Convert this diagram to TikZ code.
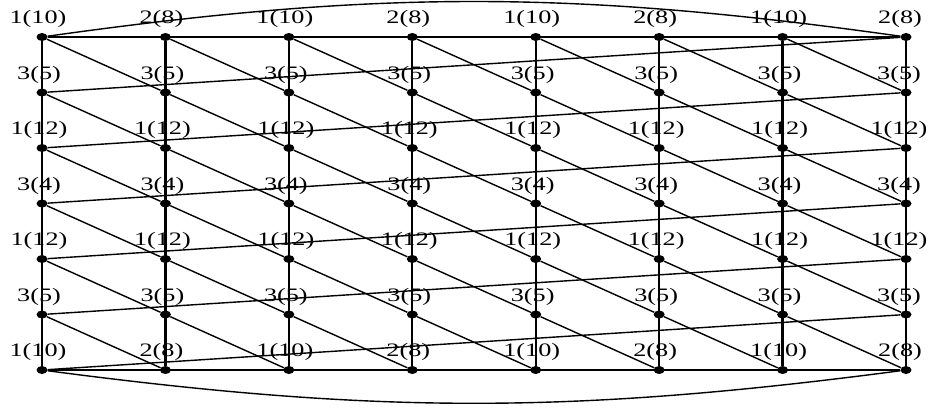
\documentclass[tikz,border=0pt]{standalone}
\usepackage{fontspec}
\setmainfont{Liberation Serif}
\usetikzlibrary{shapes.geometric,calc}
\tikzset{vert/.style={ellipse,fill=black,inner sep=0pt,minimum width=11pt,minimum height=8pt},tag/.style={font=\fontsize{19}{19}\selectfont,inner sep=0pt},edge/.style={line width=1.4pt,draw=black},rung/.style={edge,line width=2.2pt}}
\newcommand{\wide}[1]{\scalebox{1.38}[1]{#1}}

\begin{document}
\begin{tikzpicture}[x=1pt,y=-1pt]
\useasboundingbox (0,0) rectangle (929,408);
% grid of vertices, 8 columns by 7 rows
\foreach \c in {0,...,7}{
  \foreach \r in {0,...,6}{
    \node[vert] (v-\c-\r) at (42+123.43*\c,37+55.5*\r) {};
  }
}
% labels
\foreach \c/\lab in {0/{1(10)},1/{2(8)},2/{1(10)},3/{2(8)},4/{1(10)},5/{2(8)},6/{1(10)},7/{2(8)}}{
  \pgfmathsetmacro{\dx}{\c==7 ? -6 : -4}
  \node[tag] (t-\c-0) at ($(v-\c-0)+(\dx,-18)$) {\wide{\lab}};
  \node[tag] (t-\c-6) at ($(v-\c-6)+(\dx,-18)$) {\wide{\lab}};
}
\foreach \r/\lab in {1/{3(5)},2/{1(12)},3/{3(4)},4/{1(12)},5/{3(5)}}{
  \foreach \c in {0,...,7}{
    \pgfmathsetmacro{\dx}{\c==7 ? -7 : -3}
    \node[tag] (t-\c-\r) at ($(v-\c-\r)+(\dx,-18)$) {\wide{\lab}};
  }
}
% edges
\draw[edge] (v-0-0)--(v-7-0);
\draw[edge] (v-0-6)--(v-7-6);
\foreach \c in {0,...,7}{\draw[rung] (v-\c-0)--(v-\c-6);}
\foreach \c [evaluate=\c as \d using int(\c+1)] in {0,...,6}{
  \foreach \r [evaluate=\r as \s using int(\r+1)] in {0,...,5}{
    \draw[edge] (v-\c-\r)--(v-\d-\s);
  }
}
\foreach \r [evaluate=\r as \s using int(\r+1)] in {0,...,5}{\draw[edge] (v-0-\s)--(v-7-\r);}
\draw[edge] (v-0-0) to[bend left=8] (v-7-0);
\draw[edge] (v-0-6) to[bend right=7.5] (v-7-6);
\end{tikzpicture}
\end{document}
